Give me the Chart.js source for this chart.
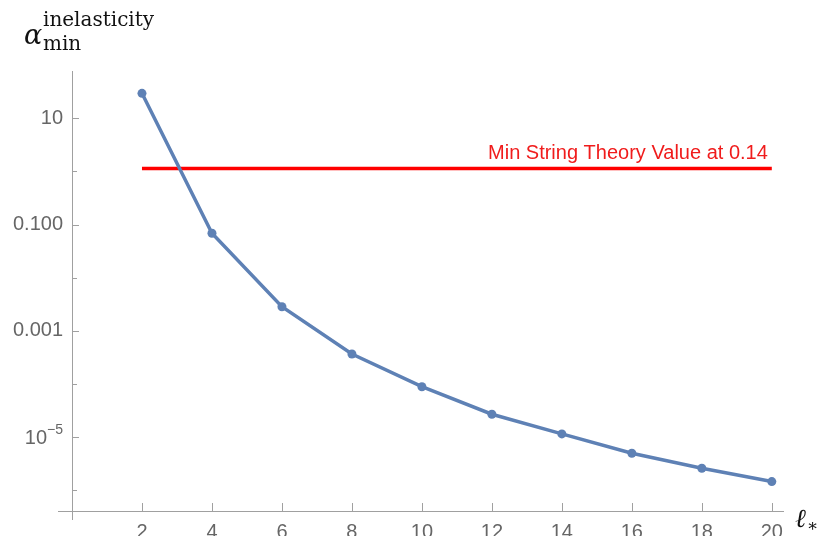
<!DOCTYPE html>
<html>
<head>
<meta charset="utf-8">
<script src="https://cdn.jsdelivr.net/npm/chart.js@4"></script>
<style>
  html,body{margin:0;padding:0;background:#fff;}
  #wrap{position:relative;width:818px;height:536px;overflow:hidden;}
  .tex{position:absolute;font-family:"DejaVu Serif",serif;color:#111;white-space:nowrap;line-height:1;}
</style>
</head>
<body>
<div id="wrap">
  <canvas id="c" width="818" height="536"></canvas>
  <!-- y axis label: alpha_min^inelasticity -->
  <div class="tex" style="left:24px;top:21px;font-size:27px;font-style:italic;">α</div>
  <div class="tex" style="left:43px;top:9px;font-size:20px;">inelasticity</div>
  <div class="tex" style="left:43px;top:33px;font-size:20px;">min</div>
  <!-- x axis label: l_* -->
  <div class="tex" style="left:795px;top:505px;font-size:26px;font-style:italic;">ℓ</div>
  <div class="tex" style="left:807px;top:517px;font-size:17px;">∗</div>
</div>
<script>
// data
const lStar = [2, 4, 6, 8, 10, 12, 14, 16, 18, 20];
const alphaMin = [29.5, 0.0686, 0.00285, 0.000367, 0.000089, 0.000027, 0.0000115, 0.00000498, 0.0000026, 0.00000146];
const stringLineX = [2, 20];
const stringLineY = 1.13;
const stringLabel = 'Min String Theory Value at 0.14';

const xTicks = [2, 4, 6, 8, 10, 12, 14, 16, 18, 20];
const yTicks = [1e-6, 1e-5, 1e-4, 1e-3, 1e-2, 1e-1, 1, 10];
const yLabels = {'10': '10', '0.1': '0.100', '0.001': '0.001'};
const yMajor = [10, 0.1, 0.001, 1e-5];

const AXIS = '#a0a0a0', LABEL = '#666';
const FONT = '"Liberation Sans", Arial, sans-serif';

// inward ticks, axis overhangs, the 10^-5 label and the red caption
const extras = {
  id: 'extras',
  afterDraw(chart){
    const ctx = chart.ctx, y = chart.scales.y, x = chart.scales.x, a = chart.chartArea;
    ctx.save();
    ctx.strokeStyle = AXIS; ctx.lineWidth = 1;
    ctx.beginPath();
    ctx.moveTo(a.left - 14, a.bottom + 0.5); ctx.lineTo(a.left, a.bottom + 0.5);
    ctx.moveTo(a.left + 0.5, a.bottom); ctx.lineTo(a.left + 0.5, a.bottom + 9);
    x.ticks.forEach(t => {
      const px = Math.round(x.getPixelForValue(t.value)) + 0.5;
      ctx.moveTo(px, a.bottom); ctx.lineTo(px, a.bottom - 8);
    });
    y.ticks.forEach(t => {
      const py = Math.round(y.getPixelForValue(t.value)) + 0.5;
      const len = yMajor.includes(t.value) ? 7 : 5;
      ctx.moveTo(a.left, py); ctx.lineTo(a.left + len, py);
    });
    ctx.stroke();
    // 10^-5
    const py = y.getPixelForValue(1e-5);
    const right = a.left - 9;
    ctx.fillStyle = LABEL;
    ctx.textAlign = 'right';
    ctx.textBaseline = 'middle';
    ctx.font = '14px ' + FONT;
    const supW = ctx.measureText('\u22125').width;
    ctx.fillText('\u22125', right, py - 7);
    ctx.font = '20px ' + FONT;
    ctx.fillText('10', right - supW, py + 1);
    // red caption above the line
    ctx.fillStyle = '#f01c1c';
    ctx.textBaseline = 'alphabetic';
    ctx.fillText(stringLabel, x.getPixelForValue(stringLineX[1]) - 4, y.getPixelForValue(stringLineY) - 10);
    ctx.restore();
  }
};

new Chart(document.getElementById('c'), {
  type: 'line',
  data: {
    datasets: [
      {
        data: lStar.map((v, i) => ({x: v, y: alphaMin[i]})),
        borderColor: '#5e81b5', backgroundColor: '#5e81b5',
        borderWidth: 3.5, pointRadius: 4.5, pointBorderWidth: 0,
        tension: 0, order: 1
      },
      {
        data: stringLineX.map(v => ({x: v, y: stringLineY})),
        borderColor: '#ff0000', borderWidth: 3.5, pointRadius: 0, order: 2
      }
    ]
  },
  options: {
    responsive: false,
    animation: false,
    layout: {padding: {top: 71, right: 35, left: 0, bottom: 0}},
    plugins: {legend: {display: false}, tooltip: {enabled: false}},
    scales: {
      x: {
        type: 'linear', min: 0, max: 20.32,
        afterBuildTicks: s => { s.ticks = xTicks.map(v => ({value: v})); },
        afterFit: s => { s.height = 25; },
        border: {color: AXIS, width: 1},
        grid: {drawOnChartArea: false, drawTicks: false},
        ticks: {padding: 9, color: LABEL, font: {family: FONT, size: 20}, maxRotation: 0, autoSkip: false}
      },
      y: {
        type: 'logarithmic', min: 4.08e-7, max: 77.6,
        afterBuildTicks: s => { s.ticks = yTicks.map(v => ({value: v})); },
        afterFit: s => { s.width = 72; },
        border: {color: AXIS, width: 1},
        grid: {drawOnChartArea: false, drawTicks: false},
        ticks: {
          padding: 9, color: LABEL, font: {family: FONT, size: 20}, autoSkip: false,
          callback: v => yLabels[String(v)] || ''
        }
      }
    }
  },
  plugins: [extras]
});
</script>
</body>
</html>
